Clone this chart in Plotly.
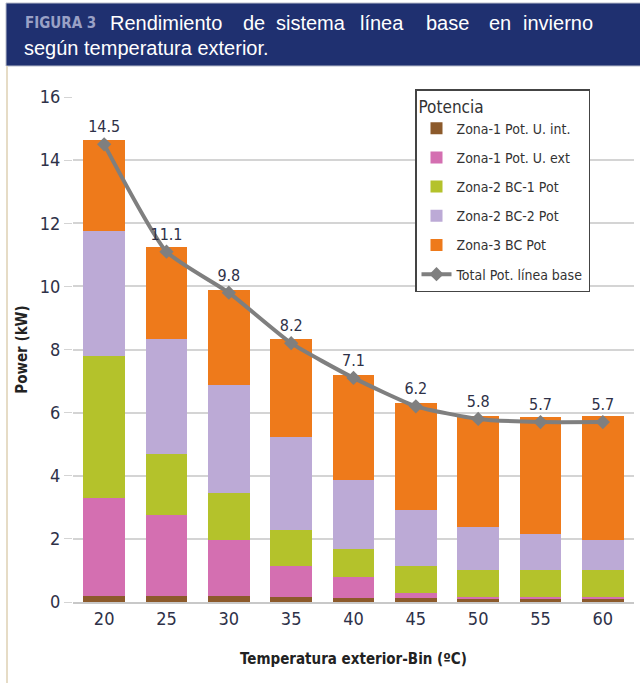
import plotly.graph_objects as go

# Temperature bins (ºC) and per-zone power (kW)
temps = ["20", "25", "30", "35", "40", "45", "50", "55", "60"]
zona1_int = [0.18, 0.18, 0.18, 0.16, 0.14, 0.14, 0.12, 0.12, 0.12]
zona1_ext = [3.12, 2.58, 1.78, 0.98, 0.65, 0.16, 0.05, 0.05, 0.05]
zona2_bc1 = [4.50, 1.92, 1.48, 1.13, 0.88, 0.85, 0.85, 0.85, 0.85]
zona2_bc2 = [3.95, 3.65, 3.42, 2.95, 2.21, 1.75, 1.36, 1.12, 0.94]
zona3_bc = [2.90, 2.92, 3.04, 3.10, 3.30, 3.42, 3.52, 3.72, 3.94]
total = [14.5, 11.1, 9.8, 8.2, 7.1, 6.2, 5.8, 5.7, 5.7]
y_ticks = [0, 2, 4, 6, 8, 10, 12, 14, 16]

W, H = 640, 683
ML, MR, MT, MB = 73, 6, 97, 81
PW, PH = W - ML - MR, H - MT - MB

def px(x):
    return (x - ML) / PW

def py(y):
    return (H - MB - y) / PH

NARROW = "Liberation Sans Narrow, DejaVu Sans Condensed, Arial Narrow, sans-serif"
TXT = "#2e3148"

series = [
    ("Zona-1 Pot. U. int.", zona1_int, "#8c5a2b"),
    ("Zona-1 Pot. U. ext", zona1_ext, "#d46fb1"),
    ("Zona-2 BC-1 Pot", zona2_bc1, "#b4c22b"),
    ("Zona-2 BC-2 Pot", zona2_bc2, "#bcaad6"),
    ("Zona-3 BC Pot", zona3_bc, "#ee7a1b"),
]

fig = go.Figure()
for i, (name, vals, col) in enumerate(series):
    fig.add_trace(go.Bar(
        x=temps, y=vals, name=name, marker=dict(color=col, line=dict(width=0)),
        legendgroup=f"g{i}",
    ))

fig.add_trace(go.Scatter(
    x=temps, y=total, name="Total Pot. línea base", mode="lines+markers+text",
    line=dict(color="#7f7f7f", width=4, shape="spline", smoothing=0.5),
    marker=dict(symbol="diamond", size=11, color="#7f7f7f"),
    text=[f"{v:.1f}" for v in total], textposition="top center",
    textfont=dict(family=NARROW, size=16, color=TXT),
    legendgroup="g5",
))

shapes = [
    # header band
    dict(type="rect", xref="paper", yref="paper",
         x0=px(6), x1=px(641), y0=py(66), y1=py(3),
         fillcolor="#1f3070", line=dict(color="#b8bccb", width=1), layer="above"),
    # left frame rule
    dict(type="line", xref="paper", yref="paper",
         x0=px(7), x1=px(7), y0=py(66), y1=py(684),
         line=dict(color="#e6dcc6", width=2)),
]

annotations = [
    dict(text="<b>FIGURA 3</b>", xref="paper", yref="paper", x=px(23), y=py(23),
         xanchor="left", yanchor="middle", showarrow=False,
         font=dict(family=NARROW, size=15, color="#9aa1c6")),
    dict(text="según temperatura exterior.", xref="paper", yref="paper",
         x=px(22), y=py(48), xanchor="left", yanchor="middle", showarrow=False,
         font=dict(family="Liberation Sans, Arial, sans-serif", size=20, color="white")),
]
words = ["Rendimiento", "de", "sistema", "línea", "base", "en", "invierno"]
word_x = [108, 241, 274, 358, 424, 487, 521]
for w, x in zip(words, word_x):
    annotations.append(dict(text=w, xref="paper", yref="paper", x=px(x), y=py(23),
                            xanchor="left", yanchor="middle", showarrow=False,
                            font=dict(family="Liberation Sans, Arial, sans-serif",
                                      size=20, color="white")))

fig.update_layout(
    width=W, height=H, margin=dict(l=ML, r=MR, t=MT, b=MB),
    paper_bgcolor="white", plot_bgcolor="white",
    barmode="stack", bargap=0.33,
    showlegend=True,
    legend=dict(
        x=px(415), y=py(89), xanchor="left", yanchor="top",
        bgcolor="white", bordercolor="#444444", borderwidth=1.5,
        font=dict(family=NARROW, size=14, color="#333333"),
        title=dict(text="Potencia", font=dict(family=NARROW, size=17, color="#333333")),
        traceorder="grouped", tracegroupgap=8, itemwidth=30,
    ),
    xaxis=dict(
        type="category", range=[-0.5, 8.5], showline=True, linecolor="#c8c8c8",
        linewidth=1.5, ticks="", showgrid=False,
        tickfont=dict(family=NARROW, size=18, color=TXT),
        title=dict(text="<b>Temperatura exterior-Bin (ºC)</b>",
                   font=dict(family=NARROW, size=15, color="#222222"), standoff=25),
    ),
    yaxis=dict(
        range=[0, 16], tickvals=y_ticks, showgrid=True, gridcolor="#d4d4d4", gridwidth=1.5,
        zeroline=False, ticks="outside", ticklen=8, tickcolor="#d4d4d4",
        tickfont=dict(family=NARROW, size=18, color=TXT),
        title=dict(text="<b>Power (kW)</b>",
                   font=dict(family=NARROW, size=15, color="#222222"), standoff=8),
    ),
    shapes=shapes, annotations=annotations,
)

fig.write_html("out.html")
